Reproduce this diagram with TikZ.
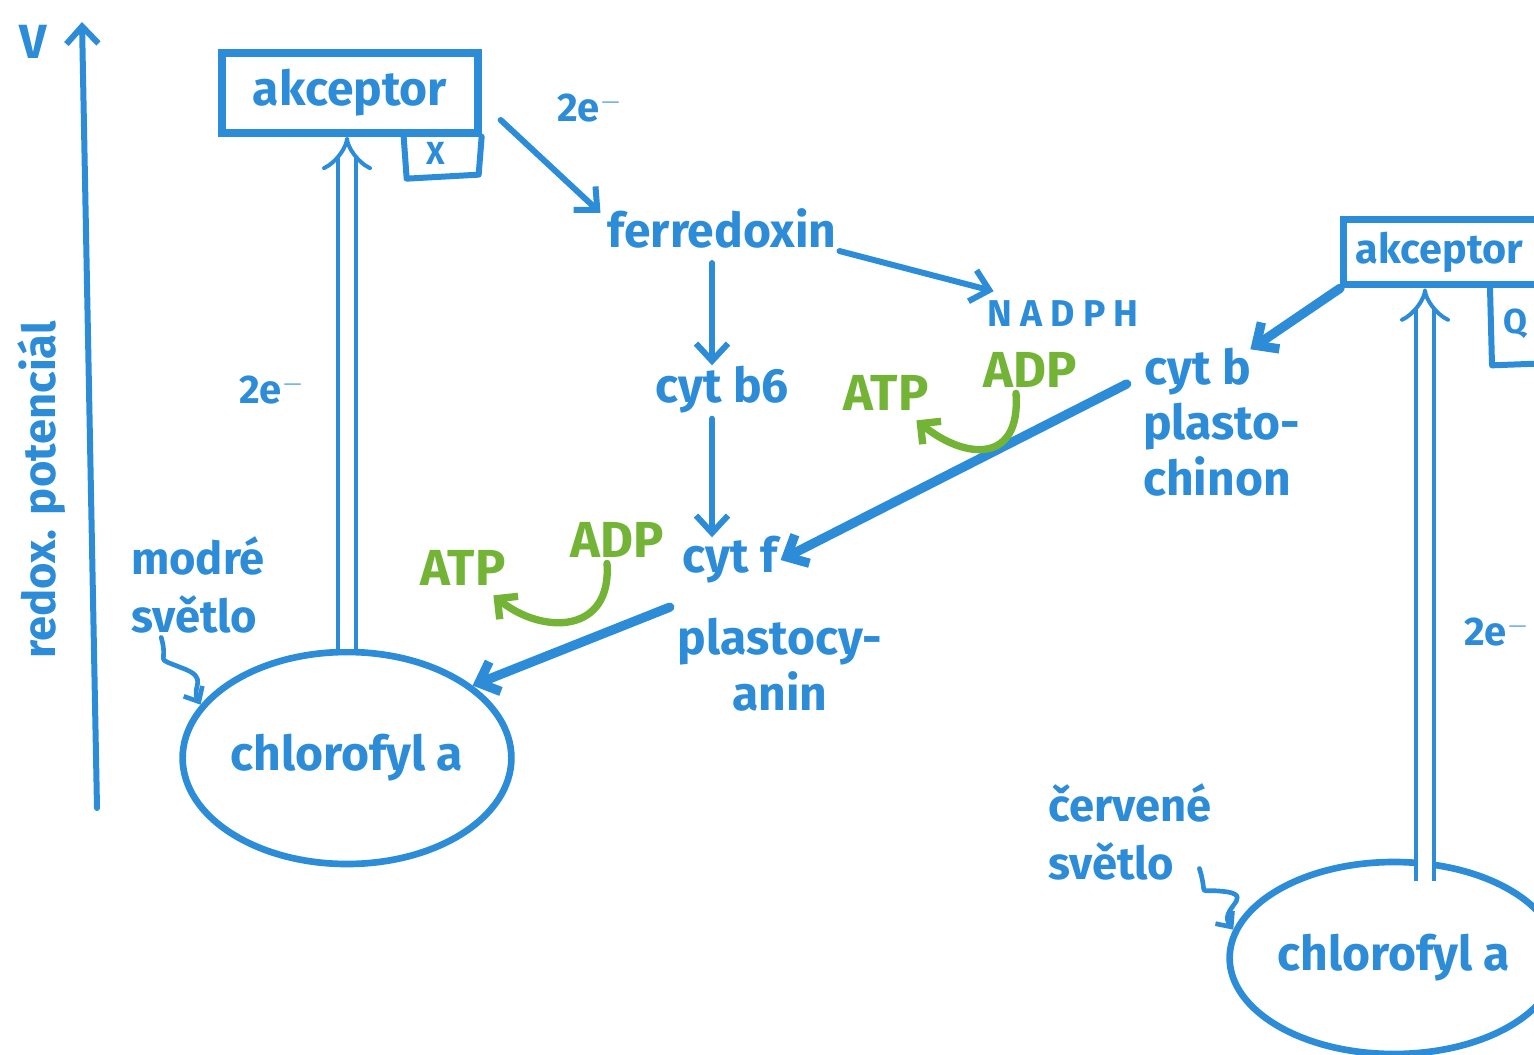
\documentclass[tikz,border=0pt]{standalone}
\usepackage{fontspec}
\setmainfont{Fira Sans}
\usetikzlibrary{arrows.meta,shapes.geometric,calc}
\definecolor{penblue}{RGB}{45,140,215}
\definecolor{pengreen}{RGB}{115,180,55}

\tikzset{every picture/.style={line width=0.75pt}}
\tikzset{
  pen/.style={draw=penblue, line width=4.5pt, line cap=round, line join=round},
  fatpen/.style={pen, line width=7pt},
  wavepen/.style={pen, line width=3.5pt, -{Straight Barb[length=9pt,width=16pt]}},
  barb/.style={-{Straight Barb[length=13pt,width=24pt]}},
  dbl/.style={draw=penblue, line width=3pt, double=white, double distance=10pt, -{Implies[length=10pt]}},
  greenpen/.style={draw=pengreen, line width=5.5pt, line cap=round, -{Straight Barb[length=11pt,width=22pt]}},
  lbl/.style={text=penblue, font=\bfseries\fontsize{36}{42}\selectfont, inner sep=2pt},
  lblsm/.style={text=penblue, font=\bfseries\fontsize{30}{38}\selectfont, inner sep=1pt},
  lblhand/.style={text=penblue, font=\bfseries\fontsize{34}{44}\selectfont, inner sep=1pt, align=left},
  nrg/.style={text=pengreen, font=\bfseries\fontsize{38}{40}\selectfont, inner sep=1pt},
  akcbox/.style={lbl, draw=penblue, line width=5.5pt, minimum width=192pt, minimum height=60pt},
  chlbox/.style={lbl, ellipse, draw=penblue, line width=5pt, inner sep=0pt}
}

\begin{document}
\begin{tikzpicture}[x=0.75pt,y=0.75pt,yscale=-1,xscale=1]
\useasboundingbox (0,0) rectangle (1534,1055);
\clip (0,0) rectangle (1534,1055);

%Axis [redox potential]
\coordinate (axbot) at (97,808);
\coordinate (axtop) at (82,22);
\draw [pen, barb] (axbot) -- (axtop) ;
% Text Node
\node [lbl] (volt) at (33,42) {V};
% Text Node
\node [lblhand, rotate=90] (redox) at (42,490) {redox. potenciál};

%Photosystem I
\node [akcbox] (akcA) at (350,93) {akceptor};
\draw [pen] ([xshift=-58.5pt]akcA.south east) -- ++(3,42) -- ++(72,-4) -- (akcA.south east) ;
\node [lblsm, font=\bfseries\fontsize{24}{28}\selectfont] (xA) at (436,153) {X};
\node [chlbox, minimum width=235pt, minimum height=159pt] (chlA) at (347,758) {chlorofyl a};
\draw [dbl] (chlA.north) -- (chlA.north |- akcA.south) ;
% Text Node
\node [lblsm] (eA) at (272,390) {2e$^-$};
% Text Node
\node [lblhand] (blue) at (198,585) {modré\\světlo};
\draw [wavepen] ($(blue.south west)+(32,2)$) .. controls +(8,28) and +(-30,-12) .. (182,668) .. controls +(28,10) and +(-10,-18) .. (chlA.160) ;

%Electron transport
\node [lbl] (fd) at (722,228) {ferredoxin};
\node [lblsm] (eTop) at (590,108) {2e$^-$};
\draw [pen, barb] ($(akcA.east)+(19,27)$) -- ($(fd.north west)+(-4,8)$) ;
\node [lblsm, font=\bfseries\fontsize{28}{36}\selectfont\addfontfeature{LetterSpace=22}] (nadph) at (1063,314) {NADPH};
\draw [pen, barb] (fd.south east) -- ($(nadph.north west)+(8,-8)$) ;
\node [lbl] (cytb6) at (722,390) {cyt b6};
\draw [pen, barb] ($(fd.south)+(-10,12)$) -- ($(cytb6.north)+(-10,2)$) ;
\node [lbl] (cytf) at (730,560) {cyt f};
\draw [pen, barb] ($(cytb6.south)+(-10,2)$) -- ($(cytf.north)+(-18,4)$) ;
\node [lbl, align=center] (pc) at (780,665) {plastocy-\\anin};
\draw [fatpen, barb] ($(pc.north west)+(-5,-8)$) -- (chlA.30) ;

%Photosystem II
\node [akcbox, font=\bfseries\fontsize{31}{36}\selectfont, minimum height=49pt, text width=178pt, inner xsep=9pt, align=left, anchor=west] (akcB) at (1340,252) {akceptor};
\draw [pen] ([xshift=112.5pt]akcB.south west) -- ++(2,77) -- ++(80,-3) ;
\node [lblsm, font=\bfseries\fontsize{26}{30}\selectfont] (qB) at (1515,324) {Q};
\node [chlbox, minimum width=204pt, minimum height=144pt] (chlB) at (1394,958) {chlorofyl a};
\coordinate (upB) at ($(chlB.north)+(31,22)$);
\draw [dbl] (upB) -- (upB |- akcB.south) ;
% Text Node
\node [lblsm] (eB) at (1497,632) {2e$^-$};
% Text Node
\node [lblhand] (red) at (1130,832) {červené\\světlo};
\draw [wavepen] ($(red.south east)+(-14,-14)$) .. controls +(10,32) and +(-35,-5) .. (1228,892) .. controls +(25,5) and +(-15,-20) .. (chlB.170) ;
\node [lbl] (cytb) at (1198,372) {cyt b};
\node [lbl, align=left, anchor=north west] (pq) at (1140,400) {plasto-\\chinon};
\draw [fatpen, barb] (akcB.south west) -- ($(cytb.north east)+(-4,4)$) ;
\draw [fatpen, barb] ($(cytb.west)+(-15,12)$) -- (cytf.east) ;

%ATP synthesis
\node [nrg] (atpA) at (463,568) {ATP};
\node [nrg] (adpA) at (617,540) {ADP};
\draw [greenpen] ($(adpA.south)+(-10,4)$) .. controls +(5,70) and +(50,40) .. ($(atpA.south east)+(-14,8)$) ;
\node [nrg] (atpB) at (886,393) {ATP};
\node [nrg] (adpB) at (1030,370) {ADP};
\draw [greenpen] ($(adpB.south)+(-14,4)$) .. controls +(5,70) and +(50,40) .. ($(atpB.south east)+(-14,8)$) ;

\end{tikzpicture}
\end{document}
